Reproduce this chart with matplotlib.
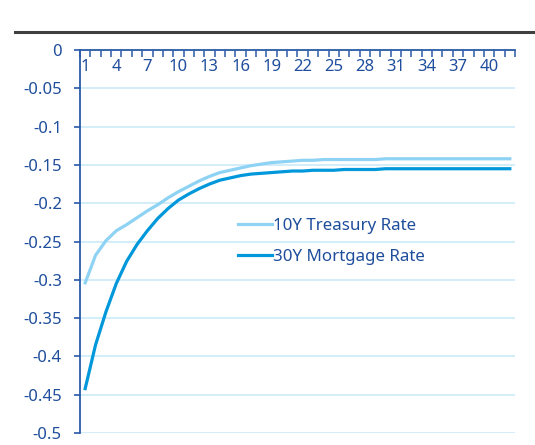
import numpy as np
import matplotlib.pyplot as plt
from matplotlib.lines import Line2D

# ========== DATA ========== #

periods = list(range(1, 43))
treasury_10y = [-0.304, -0.268, -0.249, -0.236, -0.228, -0.219, -0.210, -0.202, -0.193, -0.185,
                -0.178, -0.171, -0.165, -0.160, -0.157, -0.154, -0.151, -0.149, -0.147, -0.146,
                -0.145, -0.144, -0.144, -0.143, -0.143, -0.143, -0.143, -0.143, -0.143, -0.142,
                -0.142, -0.142, -0.142, -0.142, -0.142, -0.142, -0.142, -0.142, -0.142, -0.142,
                -0.142, -0.142]
mortgage_30y = [-0.442, -0.385, -0.342, -0.305, -0.276, -0.254, -0.236, -0.220, -0.207, -0.196,
                -0.188, -0.181, -0.175, -0.170, -0.167, -0.164, -0.162, -0.161, -0.160, -0.159,
                -0.158, -0.158, -0.157, -0.157, -0.157, -0.156, -0.156, -0.156, -0.156, -0.155,
                -0.155, -0.155, -0.155, -0.155, -0.155, -0.155, -0.155, -0.155, -0.155, -0.155,
                -0.155, -0.155]
y_ticks = [0, -0.05, -0.1, -0.15, -0.2, -0.25, -0.3, -0.35, -0.4, -0.45, -0.5]
y_labels = ["0", "-0.05", "-0.1", "-0.15", "-0.2", "-0.25", "-0.3", "-0.35", "-0.4", "-0.45", "-0.5"]

# ========== STYLE ========== #

plt.rcParams['font.family'] = ['Noto Sans', 'DejaVu Sans']
plt.rcParams['font.weight'] = 'medium'
text_col = '#1f4e9c'
axis_col = '#2a5aa8'
light_col = '#8ed2f4'
dark_col = '#0098da'
grid_col = '#c8e9f8'

W, H = 535, 445
fig = plt.figure(figsize=(W / 100, H / 100), dpi=100)
ax = fig.add_axes([80 / W, 1 - 433 / H, 435 / W, 383 / H])

ax.plot(periods, treasury_10y, color=light_col, lw=2.3, label='10Y Treasury Rate')
ax.plot(periods, mortgage_30y, color=dark_col, lw=2.3, label='30Y Mortgage Rate')

ax.set_xlim(0.5, 42.5)
ax.set_ylim(-0.5, 0)

# y axis
ax.set_yticks(y_ticks)
ax.set_yticklabels(y_labels, fontsize=12, color=text_col)
ax.tick_params(axis='y', length=4, width=1.2, color=axis_col, pad=9)
ax.grid(axis='y', color=grid_col, lw=1.1)
ax.set_axisbelow(True)

# x axis sits at the top (value 0), ticks on category boundaries
ax.xaxis.tick_top()
ax.set_xticks(np.arange(0.5, 43, 1))
ax.set_xticklabels([])
ax.tick_params(axis='x', which='major', direction='in', length=5, width=1.1, color=axis_col)
for p in periods[::3]:
    ax.text(p, -0.012, str(p), ha='center', va='top', fontsize=12, color=text_col)

for side in ['right', 'bottom']:
    ax.spines[side].set_visible(False)
ax.spines['left'].set_color(axis_col)
ax.spines['left'].set_linewidth(1.3)
ax.spines['top'].set_color(axis_col)
ax.spines['top'].set_linewidth(1.3)

# legend
ax.legend(loc='upper left', bbox_to_anchor=(151 / 435, 1 - 161 / 383), frameon=False,
          fontsize=12.2, labelcolor=text_col, handlelength=2.0, handletextpad=0.1,
          labelspacing=0.9, borderaxespad=0)

# header rule and cropped unit label
fig.add_artist(Line2D([15 / W, 1], [1 - 32 / H, 1 - 32 / H], color='#404040', lw=2.2))
fig.text(20 / W, 1 + 9 / H, "(%)", fontsize=11, color=text_col, va='center')

fig.savefig('out.png', dpi=100)
